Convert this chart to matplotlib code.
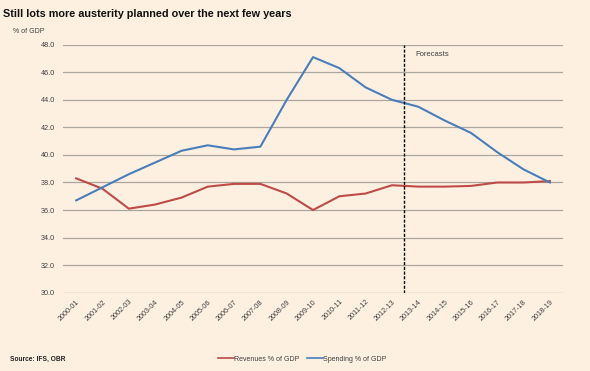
import matplotlib
matplotlib.use("Agg")
import matplotlib.pyplot as plt
from matplotlib.lines import Line2D

years = ["2000-01", "2001-02", "2002-03", "2003-04", "2004-05", "2005-06", "2006-07",
         "2007-08", "2008-09", "2009-10", "2010-11", "2011-12", "2012-13", "2013-14",
         "2014-15", "2015-16", "2016-17", "2017-18", "2018-19"]
revenues = [38.3, 37.55, 36.1, 36.4, 36.9, 37.7, 37.9, 37.9, 37.2, 36.0, 37.0, 37.2,
            37.8, 37.7, 37.7, 37.75, 38.0, 38.0, 38.1]
spending = [36.7, 37.65, 38.6, 39.45, 40.3, 40.7, 40.4, 40.6, 44.0, 47.1, 46.3, 44.9,
            44.0, 43.5, 42.5, 41.6, 40.2, 38.95, 38.0]
yticks = [30.0, 32.0, 34.0, 36.0, 38.0, 40.0, 42.0, 44.0, 46.0, 48.0]
forecast_pos = 12.45

bg = "#FDF0E1"
red = "#BE4B48"
blue = "#4A7EBB"
txt = "#404040"

plt.rcParams['font.family'] = ['Liberation Sans', 'DejaVu Sans']

fig = plt.figure(figsize=(5.9, 3.71), dpi=100, facecolor=bg)
ax = fig.add_axes([0.1068, 0.211, 0.8475, 0.6685], facecolor=bg)

x = list(range(len(years)))
ax.plot(x, revenues, color=red, lw=1.5, zorder=3)
ax.plot(x, spending, color=blue, lw=1.5, zorder=3)

ax.set_xlim(-0.5, len(years) - 0.5)
ax.set_ylim(30, 48)
ax.set_yticks(yticks)
ax.set_yticklabels([f"{v:.1f}" for v in yticks], fontsize=5.2, color=txt)
ax.set_xticks(x)
ax.set_xticklabels(years, fontsize=5.2, color=txt, rotation=45, ha='right',
                   rotation_mode='anchor')
ax.tick_params(axis='both', length=0)
ax.tick_params(axis='y', pad=6)
ax.tick_params(axis='x', pad=4)
for s in ax.spines.values():
    s.set_visible(False)
ax.grid(axis='y', color="#ABA69E", lw=0.9, zorder=1)
ax.set_axisbelow(True)

ax.axvline(forecast_pos, color='black', lw=1.0, ls=(0, (2.2, 1.2)), zorder=4)
ax.text(forecast_pos + 0.45, 47.3, "Forecasts", fontsize=5.5, color=txt, va='center')

fig.text(0.005, 0.963, "Still lots more austerity planned over the next few years",
         fontsize=7.8, fontweight='bold', color='#111111', va='center', ha='left')
fig.text(0.022, 0.916, "% of GDP", fontsize=5, color=txt, va='center')
fig.text(0.017, 0.032, "Source: IFS, OBR", fontsize=4.8, fontweight='bold', color='#222222',
         va='center')

handles = [Line2D([], [], color=red, lw=1.2), Line2D([], [], color=blue, lw=1.2)]
fig.legend(handles, ["Revenues % of GDP", "Spending % of GDP"], loc='center',
           bbox_to_anchor=(0.512, 0.032), ncol=2, frameon=False, fontsize=5,
           handlelength=2.3, handletextpad=0.05, columnspacing=1.1, labelcolor=txt)

fig.savefig("out.png", dpi=100, facecolor=bg)
